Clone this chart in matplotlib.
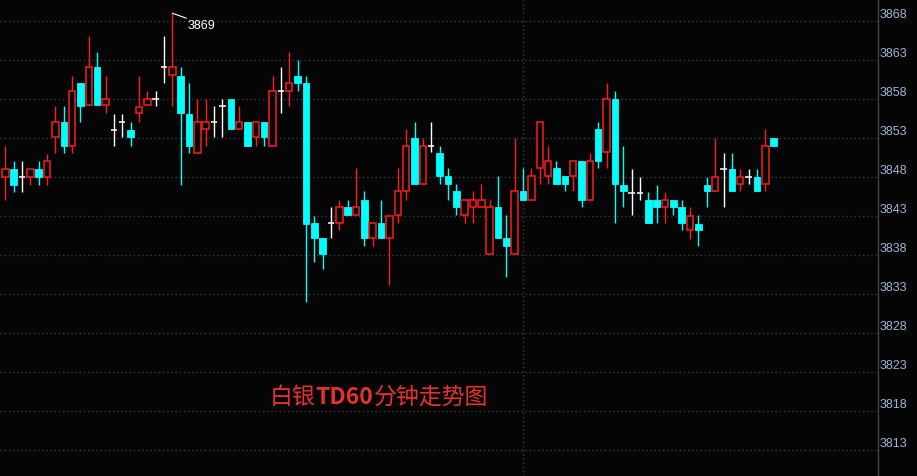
"""Silver TD 60-minute candlestick chart, dark terminal style."""

import matplotlib

matplotlib.use("Agg")
import matplotlib.pyplot as plt
import numpy as np
from matplotlib.patches import Rectangle

# 60-minute bars, first one is the clipped bar at the left edge
opens = [3845.1,
         3848.0, 3849.0, 3848.0, 3848.0, 3849.0, 3848.0, 3853.1, 3855.0, 3852.0, 3860.0,
         3857.2, 3862.1, 3857.2, 3854.0, 3855.0, 3854.0, 3856.2, 3857.2, 3858.0, 3862.1,
         3861.1, 3861.0, 3856.1, 3851.1, 3854.1, 3855.0, 3857.1, 3858.0, 3854.1, 3855.0,
         3853.1, 3855.0, 3852.0, 3859.0, 3859.0, 3861.0, 3860.0, 3842.1, 3840.2, 3842.1,
         3842.1, 3844.1, 3843.1, 3845.1, 3840.2, 3842.1, 3840.2, 3843.1, 3846.2, 3853.0,
         3847.1, 3852.0, 3851.1, 3848.1, 3846.2, 3843.1, 3844.2, 3844.2, 3838.1, 3844.1,
         3840.2, 3838.1, 3846.2, 3845.1, 3849.1, 3848.1, 3849.1, 3848.1, 3848.1, 3850.1,
         3845.1, 3854.1, 3851.2, 3858.0, 3847.0, 3846.0, 3846.0, 3845.1, 3845.1, 3844.1,
         3845.1, 3844.1, 3841.2, 3842.0, 3847.0, 3846.2, 3849.0, 3849.0, 3847.1, 3848.0,
         3848.0, 3847.1, 3853.0]
highs = [3846.0,
         3852.0, 3850.0, 3850.0, 3849.0, 3850.0, 3851.0, 3857.1, 3857.1, 3861.0, 3860.0,
         3866.1, 3864.0, 3861.0, 3856.1, 3856.1, 3855.0, 3861.0, 3859.0, 3859.0, 3866.1,
         3869.0, 3862.1, 3860.0, 3858.0, 3858.0, 3857.1, 3858.0, 3858.0, 3857.1, 3855.0,
         3855.0, 3855.0, 3861.0, 3862.1, 3864.0, 3863.0, 3861.0, 3843.0, 3840.2, 3844.1,
         3845.1, 3845.1, 3849.1, 3846.2, 3842.1, 3845.1, 3843.0, 3849.1, 3854.1, 3855.1,
         3853.0, 3855.1, 3852.0, 3849.1, 3847.1, 3845.1, 3846.2, 3847.1, 3845.1, 3848.1,
         3843.1, 3853.0, 3849.1, 3849.1, 3855.1, 3852.0, 3850.1, 3848.1, 3850.1, 3850.1,
         3851.1, 3855.1, 3860.1, 3859.0, 3852.0, 3849.0, 3848.0, 3846.1, 3847.0, 3846.1,
         3845.1, 3845.1, 3844.1, 3843.1, 3848.0, 3853.0, 3851.1, 3851.1, 3849.0, 3849.0,
         3849.0, 3854.1, 3853.0]
lows = [3844.0,
        3845.1, 3846.1, 3846.1, 3847.0, 3847.0, 3847.0, 3851.1, 3851.1, 3851.1, 3855.1,
        3857.2, 3857.2, 3856.2, 3852.0, 3853.1, 3852.0, 3855.1, 3857.2, 3857.1, 3860.0,
        3857.1, 3847.0, 3851.1, 3851.1, 3852.0, 3853.1, 3853.1, 3854.1, 3854.1, 3852.0,
        3852.0, 3852.0, 3852.0, 3856.2, 3857.1, 3859.0, 3832.0, 3837.1, 3836.2, 3840.2,
        3841.2, 3843.1, 3843.1, 3839.2, 3839.2, 3840.2, 3834.2, 3842.1, 3845.1, 3847.1,
        3847.1, 3851.2, 3847.1, 3845.1, 3843.1, 3842.1, 3842.1, 3844.2, 3838.1, 3840.2,
        3835.2, 3838.1, 3845.1, 3845.1, 3847.1, 3847.1, 3847.1, 3846.2, 3846.2, 3844.2,
        3845.1, 3849.1, 3849.1, 3842.1, 3844.1, 3843.1, 3845.1, 3842.1, 3842.1, 3842.1,
        3843.1, 3841.2, 3840.1, 3839.1, 3844.1, 3846.2, 3844.1, 3846.2, 3846.2, 3847.1,
        3846.2, 3846.2, 3852.0]
closes = [3845.1,
          3849.0, 3847.0, 3848.0, 3849.0, 3848.0, 3850.0, 3855.0, 3852.0, 3859.0, 3857.1,
          3862.1, 3857.2, 3858.0, 3854.0, 3855.0, 3853.1, 3857.0, 3858.0, 3858.0, 3862.1,
          3862.1, 3856.2, 3852.0, 3855.0, 3855.0, 3855.0, 3857.1, 3854.1, 3855.0, 3852.0,
          3855.0, 3853.1, 3859.0, 3859.0, 3860.0, 3860.0, 3842.0, 3840.2, 3838.1, 3842.1,
          3844.1, 3843.1, 3844.1, 3840.2, 3842.1, 3840.2, 3843.0, 3846.2, 3852.0, 3847.1,
          3852.0, 3852.0, 3848.1, 3847.1, 3844.2, 3845.1, 3845.1, 3845.1, 3844.1, 3840.2,
          3839.2, 3846.2, 3845.1, 3848.1, 3855.1, 3850.1, 3847.1, 3847.1, 3850.1, 3845.1,
          3850.1, 3850.1, 3858.0, 3847.1, 3846.2, 3846.0, 3846.0, 3842.1, 3844.1, 3845.1,
          3844.1, 3842.1, 3843.0, 3841.2, 3846.2, 3848.0, 3849.0, 3846.2, 3848.0, 3848.0,
          3846.2, 3852.0, 3852.0]

price_ticks = [3813, 3818, 3823, 3828, 3833, 3838, 3843, 3848, 3853, 3858, 3863, 3868]
session_break = 62  # bar index where the vertical separator is drawn
title_parts = [("白银", "normal"), ("TD60", "bold"), ("分钟走势图", "normal")]

BG = "#050505"
UP = "#ff1a1a"
DOWN = "#00ffff"
FLAT = "#ffffff"
GRID = "#3a3a44"
AXIS_TXT = "#9fb4d8"

W_PX, H_PX = 917, 476
fig = plt.figure(figsize=(W_PX / 100, H_PX / 100), dpi=100, facecolor=BG)
ax = fig.add_axes([0, 0, 878 / W_PX, 1], facecolor=BG)

x = np.arange(len(opens)) - 1
body_w = 0.78

for xi, o, h, l, c in zip(x, opens, highs, lows, closes):
    if c > o:
        col = UP
    elif c < o:
        col = DOWN
    else:
        col = FLAT
    ax.vlines(xi, l, h, color=col, lw=1, zorder=2)
    lo, hi = min(o, c), max(o, c)
    if c > o:
        ax.add_patch(Rectangle((xi - body_w / 2, lo), body_w, hi - lo,
                               facecolor=BG, edgecolor=col, lw=1.1, zorder=3))
    elif c < o:
        ax.add_patch(Rectangle((xi - body_w / 2, lo), body_w, hi - lo,
                               facecolor=col, edgecolor=col, lw=0.6, zorder=3))
    else:
        ax.hlines(o, xi - body_w / 2, xi + body_w / 2, color=col, lw=1.1, zorder=3)

for p in price_ticks:
    ax.axhline(p, color=GRID, lw=1, ls=(0, (1, 2)), zorder=1)
ax.axvline(session_break, color=GRID, lw=1, ls=(0, (1, 2)), zorder=1)

ax.set_xlim(-0.635, 104.5)
ax.set_ylim(3809.67, 3870.69)
ax.set_xticks([])
ax.set_yticks([])
for side in ("top", "left", "bottom"):
    ax.spines[side].set_visible(False)
ax.spines["right"].set_color("#3e4452")
ax.spines["right"].set_linewidth(1)

ytf = ax.get_yaxis_transform()
for p in price_ticks:
    ax.text(1.002, p + 0.77, str(p), transform=ytf, ha="left", va="center",
            color=AXIS_TXT, fontsize=9, family="Liberation Sans", clip_on=False)

# session high marker
i_hi = int(np.argmax(highs))
ax.annotate("", xy=(x[i_hi], highs[i_hi]), xytext=(14, -5), textcoords="offset pixels",
            arrowprops=dict(arrowstyle="-", color="white", lw=0.8, shrinkA=0, shrinkB=0))
ax.annotate(f"{highs[i_hi]:.0f}", xy=(x[i_hi], highs[i_hi]), xytext=(15, -13),
            textcoords="offset pixels", ha="left", va="center", color="white",
            fontsize=9, family="Liberation Sans")

# title drawn piece by piece so "TD60" can be bold
renderer = fig.canvas.get_renderer()
tx = 270
for part, weight in title_parts:
    t = fig.text(tx / W_PX, 1 - 397 / H_PX, part, ha="left", va="center", color="#e8302c",
                 fontsize=16.5, fontweight=weight, family=["Noto Sans CJK SC", "DejaVu Sans"])
    tx += t.get_window_extent(renderer).width

fig.savefig("out.png", dpi=100, facecolor=BG)
